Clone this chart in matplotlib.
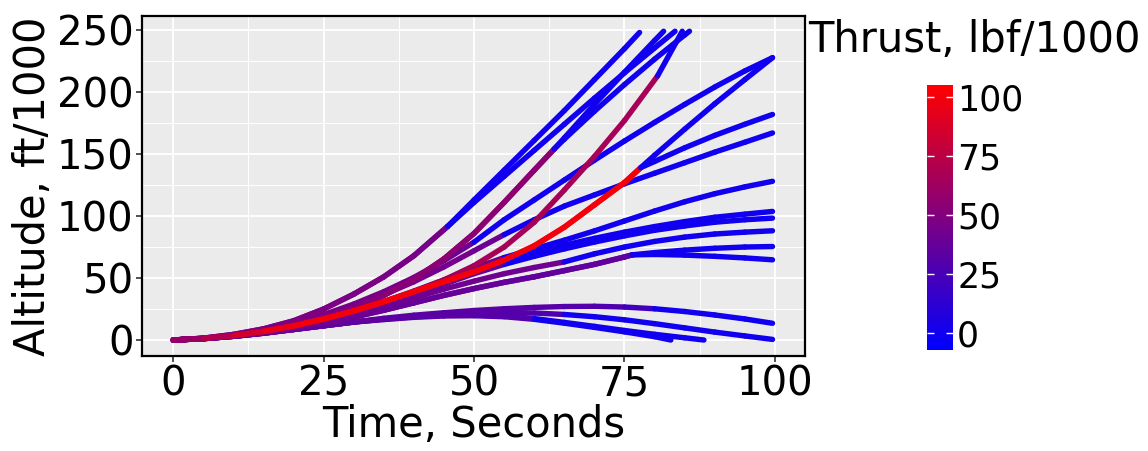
import numpy as np
import matplotlib
matplotlib.use('Agg')
import matplotlib.pyplot as plt
from matplotlib.collections import LineCollection
from matplotlib.colors import LinearSegmentedColormap, Normalize
from matplotlib.cm import ScalarMappable
from matplotlib.ticker import MultipleLocator

plt.rcParams['font.family'] = ['DejaVu Sans']

# ---- values (time s, altitude ft/1000, thrust lbf/1000) ----
t_grid = [0, 5, 10, 15, 20, 25, 30, 35, 40, 45, 50, 55, 60, 65, 70, 75, 80, 85, 90, 95, 99.6]

# pair A: shared burn, then two coasting branches
a_t = [0, 5, 10, 15, 20, 25, 30, 35, 40, 45.6]
a_alt = [0, 1.5, 4.5, 9, 15.5, 25, 37, 51, 68, 91.6]
a_thrust = [48, 48, 48, 48, 48, 47, 47, 46, 45, 0]
a1_t = [50, 55, 60, 65, 70, 75, 77.5]
a1_alt = [113, 137, 161, 185, 210, 235, 248]
a2_t = [50, 55, 60, 65, 70, 75, 80, 83.4]
a2_alt = [111, 132, 153, 174, 195, 215.5, 235.5, 249]

# pair B
b_t = [0, 5, 10, 15, 20, 25, 30, 35, 40, 45, 50, 55, 60, 63.3]
b_alt = [0, 1.3, 3.8, 7.3, 12, 18, 25.5, 36, 49, 65.5, 86, 111, 137, 154]
b_thrust = [48, 48, 48, 50, 50, 50, 52, 54, 54, 55, 55, 55, 55, 0]
b1_t = [65, 70, 75, 80, 81.5]
b1_alt = [163, 190, 216, 241.5, 249]
b2_t = [65, 70, 75, 80, 85, 85.8]
b2_alt = [162, 184.5, 206, 226.5, 246, 249]

# purple-red single
p_t = [0, 5, 10, 15, 20, 25, 30, 35, 40, 45, 50, 55, 60, 65, 70, 75, 80.5, 84.6]
p_alt = [0, 1.2, 3.4, 6.8, 11, 16.5, 23, 30.5, 39, 48.5, 60, 75, 95, 121, 148, 177, 213, 249]
p_thrust = [56, 58, 60, 60, 62, 62, 64, 64, 64, 65, 66, 66, 66, 66, 66, 66, 0, 0]

# red pair
r_t = [0, 5, 10, 15, 20, 25, 30, 35, 40, 45, 50, 55, 60, 65, 70, 75, 77.7]
r_alt = [0, 1.3, 3.6, 7, 11.5, 17, 23.5, 31, 39, 47, 55, 64.5, 76, 91, 109, 127, 139]
r_thrust = [60, 70, 85, 95, 100, 100, 100, 100, 100, 100, 100, 100, 100, 100, 100, 100, 0]
r1_t = [80, 85, 90, 95, 99.6]
r1_alt = [149, 170, 190.5, 210, 227.7]
r2_t = [80, 85, 90, 95, 99.6]
r2_alt = [144, 155, 165, 174, 181.9]

# singles on the full time grid
d_alt = [0, 1.4, 4, 8, 13.5, 20.5, 29, 39, 50.5, 64, 79, 97, 113, 129, 145, 160.5, 175.5, 190, 204, 217, 227.7]
d_thrust = [46, 46, 46, 46, 46, 46, 45, 44, 42, 40] + [0] * 11
e_alt = [0, 1.3, 3.8, 7.5, 12.5, 19, 27, 36.5, 47, 59, 72, 85, 97, 108, 117, 126, 134.5, 143, 151.5, 159.5, 167]
e_thrust = [44] * 10 + [40] + [0] * 10
f_alt = [0, 1.2, 3.5, 7, 11.5, 17, 23.5, 31, 39.5, 48.5, 58, 66.5, 73.5, 80.5, 88, 96, 104, 111.5, 118, 123.5, 128]
f_thrust = [42] * 11 + [0] * 10
g_alt = [0, 1.2, 3.5, 7, 11.5, 17, 23, 30, 38, 46.5, 55, 63, 70, 76.5, 82, 87, 91.5, 95.5, 99, 101.5, 103.7]
g_thrust = [40] * 11 + [0] * 10
h_alt = [0, 1.2, 3.4, 6.8, 11, 16, 22, 29, 36.5, 45, 53.5, 61, 67.5, 73.5, 79, 84, 88.5, 92, 95, 97, 98.3]
h_thrust = [38] * 11 + [0] * 10
k_alt = [0, 1.1, 3.2, 6.3, 10.2, 15, 20.5, 27, 34, 41, 47.5, 53.5, 58.5, 63, 69.5, 75, 79.5, 83, 85.5, 87, 88.1]
k_thrust = [42] * 13 + [0] * 8

# slow pair W
w_t = [0, 5, 10, 15, 20, 25, 30, 35, 40, 45, 50, 55, 60, 65, 70, 75, 76.3]
w_alt = [0, 1.1, 3, 5.8, 9.3, 13.5, 18.5, 24, 30, 36, 41.5, 46.5, 51, 56, 61, 67, 68.7]
w_thrust = [42, 42, 42, 40, 40, 40, 40, 38, 38, 38, 38, 36, 36, 36, 36, 34, 0]
w1_t = [80, 85, 90, 95, 99.6]
w1_alt = [70.5, 72.5, 74, 75, 75.4]
w2_t = [80, 85, 90, 95, 99.6]
w2_alt = [69, 68.5, 67.5, 66.2, 64.7]

# low group
lg_t = [0, 5, 10, 15, 20, 25, 30]
lg_alt = [0, 1.1, 3, 5.5, 8.5, 11.5, 14.5]
lg_thrust = [40, 40, 38, 38, 36, 35, 35]
lg1_t = [35, 40, 45, 50, 55, 60, 65, 70, 75, 80, 85, 90, 95, 99.6]
lg1_alt = [17.5, 20, 22, 23.8, 25.2, 26.3, 27, 27.2, 26.6, 25.2, 23, 20.2, 17, 13.5]
lg1_thrust = [34, 34, 33, 33, 32, 32, 30, 28, 22, 0, 0, 0, 0, 0]
lg2_t = [35, 40, 45, 50, 55, 60, 65, 70, 75, 80, 85, 90, 95, 99.6]
lg2_alt = [17, 19.2, 20.8, 21.8, 22.2, 21.8, 20.6, 18.8, 16.3, 13.2, 9.8, 6.4, 3.3, 0.5]
lg2_thrust = [33, 33, 32, 32, 30, 28, 0, 0, 0, 0, 0, 0, 0, 0]
lg3_t = [35, 40, 45, 50, 55, 60, 65, 70, 75, 80, 85, 88.2]
lg3_alt = [16.8, 18.7, 19.9, 20.2, 19.5, 17.3, 14.2, 11, 7.7, 4.6, 1.8, 0]
lg3_thrust = [33, 32, 32, 31, 30, 0, 0, 0, 0, 0, 0, 0]
lg4_t = [35, 40, 45, 50, 55, 60, 65, 70, 75, 80, 82.7]
lg4_alt = [16.5, 18.3, 19.4, 19.6, 18.8, 16.7, 13.6, 10.2, 6.6, 2.7, 0]
lg4_thrust = [33, 32, 32, 31, 30, 0, 0, 0, 0, 0, 0]

cbar_ticks = [0, 25, 50, 75, 100]

cmap = LinearSegmentedColormap.from_list('thrust', ['#0000FF', '#FF0000'])
norm = Normalize(vmin=-7, vmax=105)


def draw_path(ax, t, alt, thrust):
    pts = np.column_stack([t, alt])
    segs = np.stack([pts[:-1], pts[1:]], axis=1)
    lc = LineCollection(segs, cmap=cmap, norm=norm, linewidths=3.9,
                        capstyle='round', joinstyle='round')
    lc.set_array(np.asarray(thrust[:-1], dtype=float))
    ax.add_collection(lc)


fig = plt.figure(figsize=(11.48, 4.51), dpi=100)
ax = fig.add_axes([0.1237, 0.2106, 0.5775, 0.7539])
ax.set_facecolor('#EBEBEB')

zeros = lambda n: [0] * n

# low group
for tt, aa, th in [(lg1_t, lg1_alt, lg1_thrust), (lg2_t, lg2_alt, lg2_thrust),
                   (lg3_t, lg3_alt, lg3_thrust), (lg4_t, lg4_alt, lg4_thrust)]:
    draw_path(ax, lg_t + tt, lg_alt + aa, lg_thrust + th)

# slow pair
draw_path(ax, w_t + w1_t, w_alt + w1_alt, w_thrust + zeros(len(w1_t)))
draw_path(ax, w_t + w2_t, w_alt + w2_alt, w_thrust + zeros(len(w2_t)))

# singles
for aa, th in [(k_alt, k_thrust), (h_alt, h_thrust), (g_alt, g_thrust),
               (f_alt, f_thrust), (e_alt, e_thrust), (d_alt, d_thrust)]:
    draw_path(ax, t_grid, aa, th)

# top pairs
draw_path(ax, a_t + a1_t, a_alt + a1_alt, a_thrust + zeros(len(a1_t)))
draw_path(ax, a_t + a2_t, a_alt + a2_alt, a_thrust + zeros(len(a2_t)))
draw_path(ax, b_t + b1_t, b_alt + b1_alt, b_thrust + zeros(len(b1_t)))
draw_path(ax, b_t + b2_t, b_alt + b2_alt, b_thrust + zeros(len(b2_t)))
draw_path(ax, p_t, p_alt, p_thrust)
draw_path(ax, r_t + r1_t, r_alt + r1_alt, r_thrust + zeros(len(r1_t)))
draw_path(ax, r_t + r2_t, r_alt + r2_alt, r_thrust + zeros(len(r2_t)))

ax.set_xlim(-5.2, 105)
ax.set_ylim(-12.9, 261.3)
ax.xaxis.set_major_locator(MultipleLocator(25))
ax.xaxis.set_minor_locator(MultipleLocator(12.5))
ax.yaxis.set_major_locator(MultipleLocator(50))
ax.yaxis.set_minor_locator(MultipleLocator(25))
ax.set_axisbelow(True)
ax.grid(which='major', color='white', linewidth=1.3)
ax.grid(which='minor', color='white', linewidth=0.7)
for sp in ax.spines.values():
    sp.set_color('black')
    sp.set_linewidth(1.6)
ax.tick_params(which='major', direction='out', length=4, width=1.2, color='#333333',
               labelsize=29, pad=2, labelcolor='black')
ax.tick_params(which='minor', length=0)

ax.set_xlabel('Time, Seconds', fontsize=30, labelpad=0)
ax.set_ylabel('Altitude, ft/1000', fontsize=30, labelpad=2)

# colour bar
cax = fig.add_axes([0.8075, 0.2239, 0.02265, 0.5876])
cb = fig.colorbar(ScalarMappable(norm=norm, cmap=cmap), cax=cax, ticks=cbar_ticks)
cb.outline.set_visible(False)
cb.ax.tick_params(labelsize=25, length=5, width=1, color='white', direction='in',
                  left=True, right=True, pad=3)
fig.text(808 / 1148, 1 - 40 / 451, 'Thrust, lbf/1000', fontsize=30, ha='left', va='center')

fig.savefig('out.png', dpi=100)
